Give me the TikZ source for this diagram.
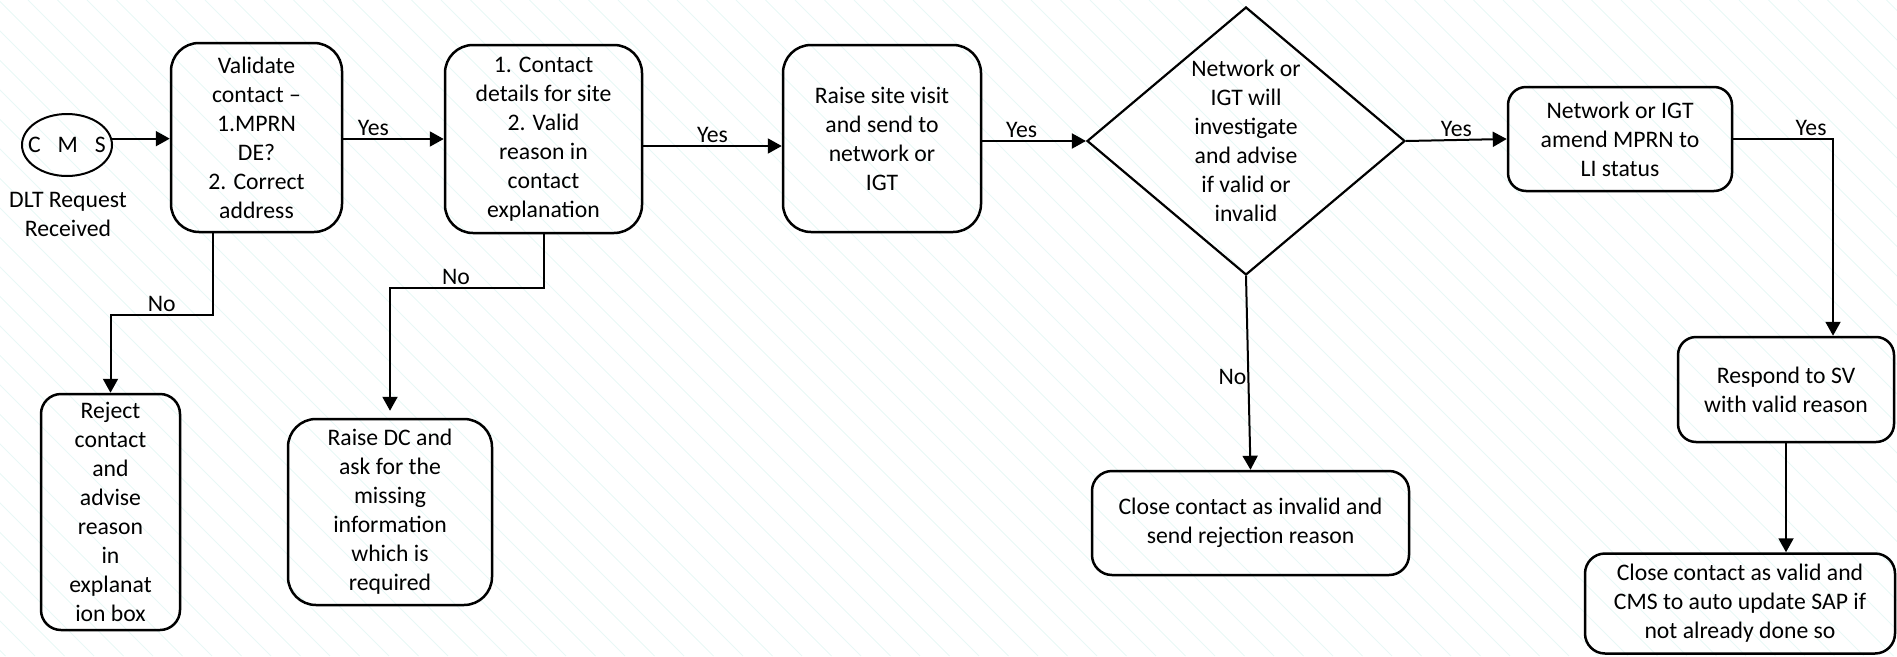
\documentclass[tikz,border=0pt]{standalone}
\usepackage{fontspec}
\setmainfont{Carlito}
\usetikzlibrary{arrows.meta,shapes.geometric}
\definecolor{stripecol}{RGB}{232,248,246}
\begin{document}
\begin{tikzpicture}[x=1pt,y=-1pt,
  every node/.style={font=\fontsize{23.7}{29}\selectfont, text=black},
  box/.style={draw, line width=2.5pt, rounded corners=#1, align=center, inner sep=0pt},
  box/.default=20pt,
  arr/.style={line width=2pt, -{Triangle[length=14pt,width=15pt]}},
  lab/.style={inner sep=2pt},
  stripe/.style={stripecol, line width=0.9pt}]
\useasboundingbox (0,0) rectangle (1897,656);
\begin{scope}
  \clip (0,0) rectangle (1897,656);
  \foreach \i in {-680,-650.5,...,1900} \draw[stripe] (\i,0) -- (\i+656,656);
\end{scope}

% nodes
\node[draw, ellipse, line width=2pt, minimum width=90pt, minimum height=62pt, inner sep=0pt] (cms) at (67,145) {};
\node (cmst) at (cms.center) {C\hspace{17pt}M\hspace{17pt}S};
\node[align=center, inner sep=0pt] (dlt) at (68,214) {DLT Request\\Received};

\node[box=28pt, minimum width=171pt, minimum height=189pt] (v1) at (256.5,137.5)
  {Validate\\contact –\\1.MPRN\\DE?\\2. Correct\\address};
\node[box=28pt, minimum width=197pt, minimum height=188pt] (ctd) at (543.5,139)
  {1. Contact\\details for site\\2. Valid\\reason in\\contact\\explanation};
\node[box=28pt, minimum width=198pt, minimum height=187pt] (rsv) at (882,138.5)
  {Raise site visit\\and send to\\network or\\IGT};
\node[draw, diamond, line width=2.2pt, minimum width=318pt, minimum height=268pt, inner sep=0pt, aspect=1.19] (dia) at (1246,141) {};
\node[align=center, inner sep=0pt] (diat) at (dia.center)
  {Network or\\IGT will\\investigate\\and advise\\if valid or\\invalid};
\node[box=18pt, minimum width=224pt, minimum height=104pt] (amd) at (1620,139)
  {Network or IGT\\amend MPRN to\\LI status};
\node[box=18pt, minimum width=216pt, minimum height=105pt] (rsp) at (1786,389.5)
  {Respond to SV\\with valid reason};
\node[box=20pt, minimum width=310pt, minimum height=100pt] (cvl) at (1740,603.5)
  {Close contact as valid and\\CMS to auto update SAP if\\not already done so};
\node[box=20pt, minimum width=317pt, minimum height=104pt] (cinv) at (1250.5,523)
  {Close contact as invalid and\\send rejection reason};
\node[box=20pt, minimum width=139pt, minimum height=236pt] (rej) at (110.5,512)
  {Reject\\contact\\and\\advise\\reason\\in\\explanat\\ion box};
\node[box=28pt, minimum width=204pt, minimum height=186pt] (rdc) at (390,512)
  {Raise DC and\\ask for the\\missing\\information\\which is\\required};

% connectors
\coordinate (k1) at (0,139);
\coordinate (k3) at (0,146);
\coordinate (k6) at (1833,139);
\coordinate (k9) at (213,315);
\coordinate (k10) at (543.5,288);

\draw[arr] (cms.8) -- (cms.8 -| v1.west);
\draw[arr] (v1.east |- k1) -- node[lab, above, pos=.3]{Yes} (ctd.west |- k1);
\draw[arr] (ctd.east |- k3) -- node[lab, above]{Yes} (rsv.west |- k3);
\draw[arr] (dia.west -| rsv.east) -- node[lab, above, pos=.38]{Yes} (dia.west);
\draw[arr] (dia.east) -- node[lab, above]{Yes} (amd.west);
\draw[arr] (amd.east) -- node[lab, above, pos=.78]{Yes} (amd.east -| k6) -- (rsp.north -| k6);
\draw[arr] (rsp.south) -- (rsp.south |- cvl.north);
\draw[arr] (dia.south) -- node[lab, left, inner sep=1pt, pos=.52]{No} (cinv.north);
\draw[arr] (v1.south -| k9) -- (k9) -- node[lab, above]{No} (k9 -| rej.north) -- (rej.north);
\draw[arr] (ctd.south) -- (k10) -- node[lab, above, pos=.57]{No} (k10 -| rdc.north) -- ([yshift=7pt]rdc.north);
\end{tikzpicture}
\end{document}
